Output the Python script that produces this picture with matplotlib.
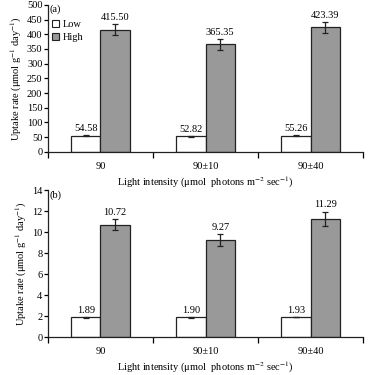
import numpy as np
import matplotlib.pyplot as plt
from matplotlib.patches import Patch

plt.rcParams['font.family'] = ['Liberation Serif', 'DejaVu Serif']
plt.rcParams['mathtext.fontset'] = 'stix'

# data
categories = ['90', '90±10', '90±40']
low_a = [54.58, 52.82, 55.26]
high_a = [415.50, 365.35, 423.39]
low_a_err = [2.0, 2.0, 2.5]
high_a_err = [19.0, 18.0, 20.0]
low_b = [1.89, 1.90, 1.93]
high_b = [10.72, 9.27, 11.29]
low_b_err = [0.05, 0.05, 0.0]
high_b_err = [0.55, 0.55, 0.67]

fs = 7.5
fig = plt.figure(figsize=(3.69, 3.75), dpi=100)
ax1 = fig.add_axes([0.130, 0.595, 0.854, 0.392])
ax2 = fig.add_axes([0.130, 0.101, 0.854, 0.392])

x = np.arange(len(categories))
w = 0.28


def panel(ax, low, high, low_err, high_err, ymax, ystep, tag, offs):
    ax.bar(x - w / 2, low, w, color='white', edgecolor='#222222', linewidth=0.9,
           yerr=low_err, error_kw=dict(ecolor='#222222', elinewidth=0.9, capsize=2.5, capthick=0.9))
    ax.bar(x + w / 2, high, w, color='#999999', edgecolor='#222222', linewidth=0.9,
           yerr=high_err, error_kw=dict(ecolor='#222222', elinewidth=0.9, capsize=2.5, capthick=0.9))
    for i in range(len(x)):
        ax.text(x[i] - w / 2, low[i] + low_err[i] + offs, f'{low[i]:.2f}',
                ha='center', va='bottom', fontsize=fs)
        ax.text(x[i] + w / 2, high[i] + high_err[i] + offs, f'{high[i]:.2f}',
                ha='center', va='bottom', fontsize=fs)
    ax.set_xlim(-0.5, 2.5)
    ax.set_ylim(0, ymax)
    ax.set_yticks(np.arange(0, ymax + ystep / 2, ystep))
    ax.set_xticks([-0.5, 0.5, 1.5, 2.5])
    ax.set_xticklabels([])
    ax.set_xticks(x, minor=True)
    ax.set_xticklabels(categories, minor=True)
    ax.tick_params(axis='x', which='minor', length=0, pad=7, labelsize=fs)
    ax.tick_params(axis='x', which='major', length=4, width=0.9, direction='out')
    ax.tick_params(axis='y', length=3, width=0.9, direction='out', pad=1, labelsize=fs)
    for s in ['top', 'right']:
        ax.spines[s].set_visible(False)
    for s in ['left', 'bottom']:
        ax.spines[s].set_linewidth(0.9)
        ax.spines[s].set_color('#222222')
    ax.set_ylabel('Uptake rate (μmol g$^{-1}$ day$^{-1}$)', fontsize=fs, labelpad=2)
    ax.set_xlabel('Light intensity (μmol  photons m$^{-2}$ sec$^{-1}$)', fontsize=fs, labelpad=3)
    ax.text(0.005, 1.0, tag, transform=ax.transAxes, fontsize=fs, ha='left', va='top')


panel(ax1, low_a, high_a, low_a_err, high_a_err, 500, 50, '(a)', 6)
panel(ax2, low_b, high_b, low_b_err, high_b_err, 14, 2, '(b)', 0.2)

handles = [Patch(facecolor='white', edgecolor='#222222', linewidth=0.8),
           Patch(facecolor='#999999', edgecolor='#222222', linewidth=0.8)]
ax1.legend(handles, ['Low', 'High'], loc='upper left', bbox_to_anchor=(-0.01, 0.95),
           frameon=False, fontsize=fs, handlelength=0.7, handleheight=0.7,
           handletextpad=0.3, labelspacing=0.4, borderpad=0.2)

fig.savefig('out.png', dpi=100)
